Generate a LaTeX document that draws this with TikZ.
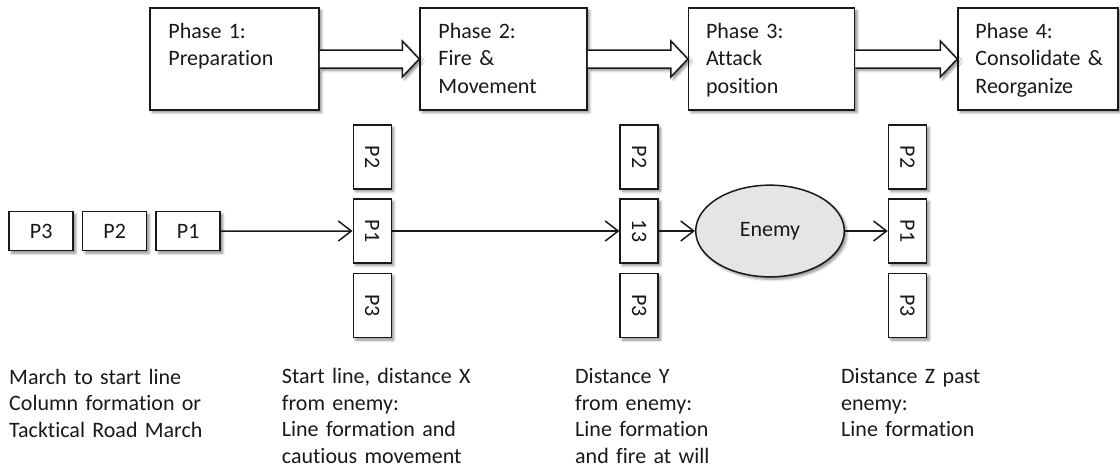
\documentclass[tikz,border=0pt]{standalone}
\usepackage{fontspec}
\usepackage{graphicx}
\setmainfont{Carlito}[Ligatures=NoCommon]
\usetikzlibrary{arrows.meta,calc,shadows.blur,shapes.geometric}

\tikzset{
  outline/.style={draw=black!90, line width=1.5pt},
  softshadow/.style={blur shadow={shadow xshift=2.5pt, shadow yshift=-2.5pt,
      shadow blur radius=2.5pt, shadow opacity=45}},
  phasebox/.style={outline, softshadow, fill=white, minimum height=102pt, inner sep=0},
  phasetext/.style={anchor=base west, inner sep=0, text width=140pt, align=left,
      font=\fontsize{22}{27.4}\selectfont, text=black!90},
  unitbox/.style={outline, softshadow, fill=white, minimum width=64pt,
      minimum height=39pt, inner sep=0, font=\fontsize{22}{26}\selectfont, text=black!90},
  unitcol/.style={unitbox, minimum width=38pt, minimum height=64pt},
  note/.style={anchor=base west, inner sep=0, text width=220pt, align=left,
      font=\fontsize{22}{26.7}\selectfont, text=black!90},
  conn/.style={line width=1.5pt, draw=black!90,
      -{Straight Barb[length=13pt,width=20pt,line width=1.5pt]}},
  bigarrow/.style={outline, fill=white, softshadow, line join=miter},
}

% hollow block arrow between two phase boxes
\newcommand\blockarrow[2]{%
  \draw[bigarrow] ($(#1.east)+(0,-9)$) -- ($(#2.west)+(-17,-9)$)
    -- ($(#2.west)+(-17,-18)$) -- (#2.west) -- ($(#2.west)+(-17,18)$)
    -- ($(#2.west)+(-17,9)$) -- ($(#1.east)+(0,9)$);}

\begin{document}
\begin{tikzpicture}[x=1pt,y=-1pt]
\useasboundingbox (0,0) rectangle (1120,469);

% phases
\node[phasebox, minimum width=169pt] (ph1) at (234.5,59) {};
\node[phasebox, minimum width=167pt] (ph2) at (503.5,59) {};
\node[phasebox, minimum width=166pt] (ph3) at (771.6,59) {};
\node[phasebox, minimum width=160pt] (ph4) at (1038,59) {};

\blockarrow{ph1}{ph2}
\blockarrow{ph2}{ph3}
\blockarrow{ph3}{ph4}

\node[phasetext] (t1) at ([xshift=19pt,yshift=-31.3pt]ph1.north west) {Phase 1:\\Preparation};
\node[phasetext] (t2) at ([xshift=19pt,yshift=-31.3pt]ph2.north west) {Phase 2:\\Fire \&\\Movement};
\node[phasetext] (t3) at ([xshift=18pt,yshift=-31.3pt]ph3.north west) {Phase 3:\\Attack\\position};
\node[phasetext] (t4) at ([xshift=18pt,yshift=-31.3pt]ph4.north west) {Phase 4:\\Consolidate \&\\Reorganize};

% column on the march
\node[unitbox] (m3) at (41.2,231.2) {P3};
\node[unitbox] (m2) at (114.7,231.2) {P2};
\node[unitbox] (m1) at (188.2,231.2) {P1};

% start line
\node[unitcol] (a2) at (372.3,157) {\rotatebox{-90}{P2}};
\node[unitcol] (a1) at (372.3,231) {\rotatebox{-90}{P1}};
\node[unitcol] (a3) at (372.3,305.5) {\rotatebox{-90}{P3}};

% distance Y
\node[unitcol] (b2) at (639.2,157) {\rotatebox{-90}{P2}};
\node[unitcol] (b1) at (639.2,231) {\rotatebox{-90}{13}};
\node[unitcol] (b3) at (639.2,305.5) {\rotatebox{-90}{P3}};

% enemy
\node[ellipse, outline, softshadow, fill=black!10, minimum width=148.6pt,
      minimum height=91.7pt, inner sep=0, font=\fontsize{22}{26}\selectfont,
      text=black!90] (en) at (770,231) {Enemy};

% past the enemy
\node[unitcol] (c2) at (907.5,157) {\rotatebox{-90}{P2}};
\node[unitcol] (c1) at (907.5,231) {\rotatebox{-90}{P1}};
\node[unitcol] (c3) at (907.5,305.5) {\rotatebox{-90}{P3}};

% movement
\draw[conn] (m1.east) -- (a1.west);
\draw[conn] (a1.east) -- (b1.west);
\draw[conn] (b1.east) -- (en.west);
\draw[conn] (en.east) -- (c1.west);

% notes
\node[note] (n1) at (9,384) {March to start line\\Column formation or\\Tacktical Road March};
\node[note] (n2) at (281.7,383.5) {Start line, distance X\\from enemy:\\Line formation and\\cautious movement};
\node[note] (n3) at (575,383.5) {Distance Y\\from enemy:\\Line formation\\and fire at will};
\node[note] (n4) at (841,383.5) {Distance Z past\\enemy:\\Line formation};
\end{tikzpicture}
\end{document}
